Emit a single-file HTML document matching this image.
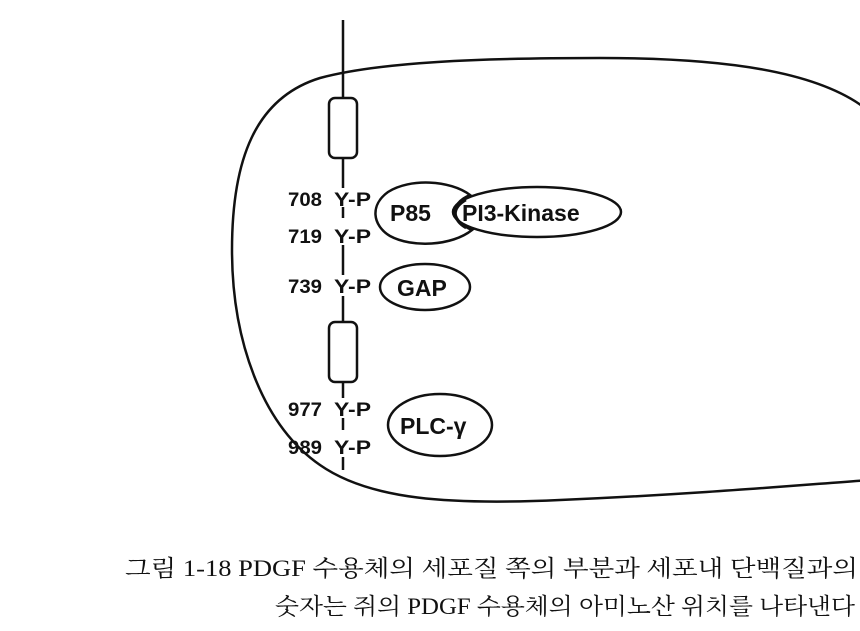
<!DOCTYPE html>
<html><head><meta charset="utf-8"><style>
body{margin:0;background:#fff;width:860px;height:631px;overflow:hidden}
svg{display:block}
.t{font-family:"Liberation Sans",sans-serif;font-weight:bold;fill:#111}
.k{font-family:"Liberation Serif","Noto Serif CJK SC","Noto Sans CJK KR",serif;fill:#111;font-size:23px}
</style></head><body>
<svg width="860" height="631" viewBox="0 0 860 631">
<g fill="none" stroke="#111" stroke-width="2.5">
<path d="M870,112 C820,70 720,58 600,58 C480,58 380,62 320,78 C255,98 232,160 232,250 C232,340 262,425 320,465 C370,500 450,505 560,500 C700,494 800,485 870,480"/>
<line x1="343" y1="20" x2="343" y2="98"/>
<rect x="329" y="98" width="28" height="60" rx="6"/>
<line x1="343" y1="158" x2="343" y2="188"/>
<line x1="343" y1="207" x2="343" y2="218"/>
<line x1="343" y1="245" x2="343" y2="275"/>
<line x1="343" y1="296" x2="343" y2="322"/>
<rect x="329" y="322" width="28" height="60" rx="6"/>
<line x1="343" y1="382" x2="343" y2="398"/>
<line x1="343" y1="418" x2="343" y2="430"/>
<line x1="343" y1="457" x2="343" y2="470"/>
<path d="M470,195 C450,180 410,178 388,192 C370,205 372,225 390,236 C412,248 452,246 472,230 C452,222 448,204 470,195 Z"/>
<ellipse cx="537" cy="212" rx="84" ry="25"/>
<path d="M466,200 C452,208 452,220 466,228"/>
<ellipse cx="425" cy="287" rx="45" ry="23"/>
<ellipse cx="440" cy="425" rx="52" ry="31"/>
</g>
<g class="t" font-size="19">
<text x="288" y="206" textLength="34" lengthAdjust="spacingAndGlyphs">708</text><text x="334" y="206" textLength="37" lengthAdjust="spacingAndGlyphs">Y-P</text>
<text x="288" y="243" textLength="34" lengthAdjust="spacingAndGlyphs">719</text><text x="334" y="243" textLength="37" lengthAdjust="spacingAndGlyphs">Y-P</text>
<text x="288" y="293" textLength="34" lengthAdjust="spacingAndGlyphs">739</text><text x="334" y="293" textLength="37" lengthAdjust="spacingAndGlyphs">Y-P</text>
<text x="288" y="416" textLength="34" lengthAdjust="spacingAndGlyphs">977</text><text x="334" y="416" textLength="37" lengthAdjust="spacingAndGlyphs">Y-P</text>
<text x="288" y="454" textLength="34" lengthAdjust="spacingAndGlyphs">989</text><text x="334" y="454" textLength="37" lengthAdjust="spacingAndGlyphs">Y-P</text>
</g>
<g class="t" font-size="23">
<text x="390" y="221">P85</text>
<text x="462" y="221">PI3-Kinase</text>
<text x="397" y="296">GAP</text>
<text x="400" y="434">PLC-γ</text>
</g>
<text class="k" x="125" y="576" textLength="733" lengthAdjust="spacingAndGlyphs">그림 1-18  PDGF 수용체의 세포질 쪽의 부분과 세포내 단백질과의</text>
<text class="k" x="275" y="614" textLength="580" lengthAdjust="spacingAndGlyphs">숫자는 쥐의 PDGF 수용체의 아미노산 위치를 나타낸다</text>
</svg>
</body></html>
